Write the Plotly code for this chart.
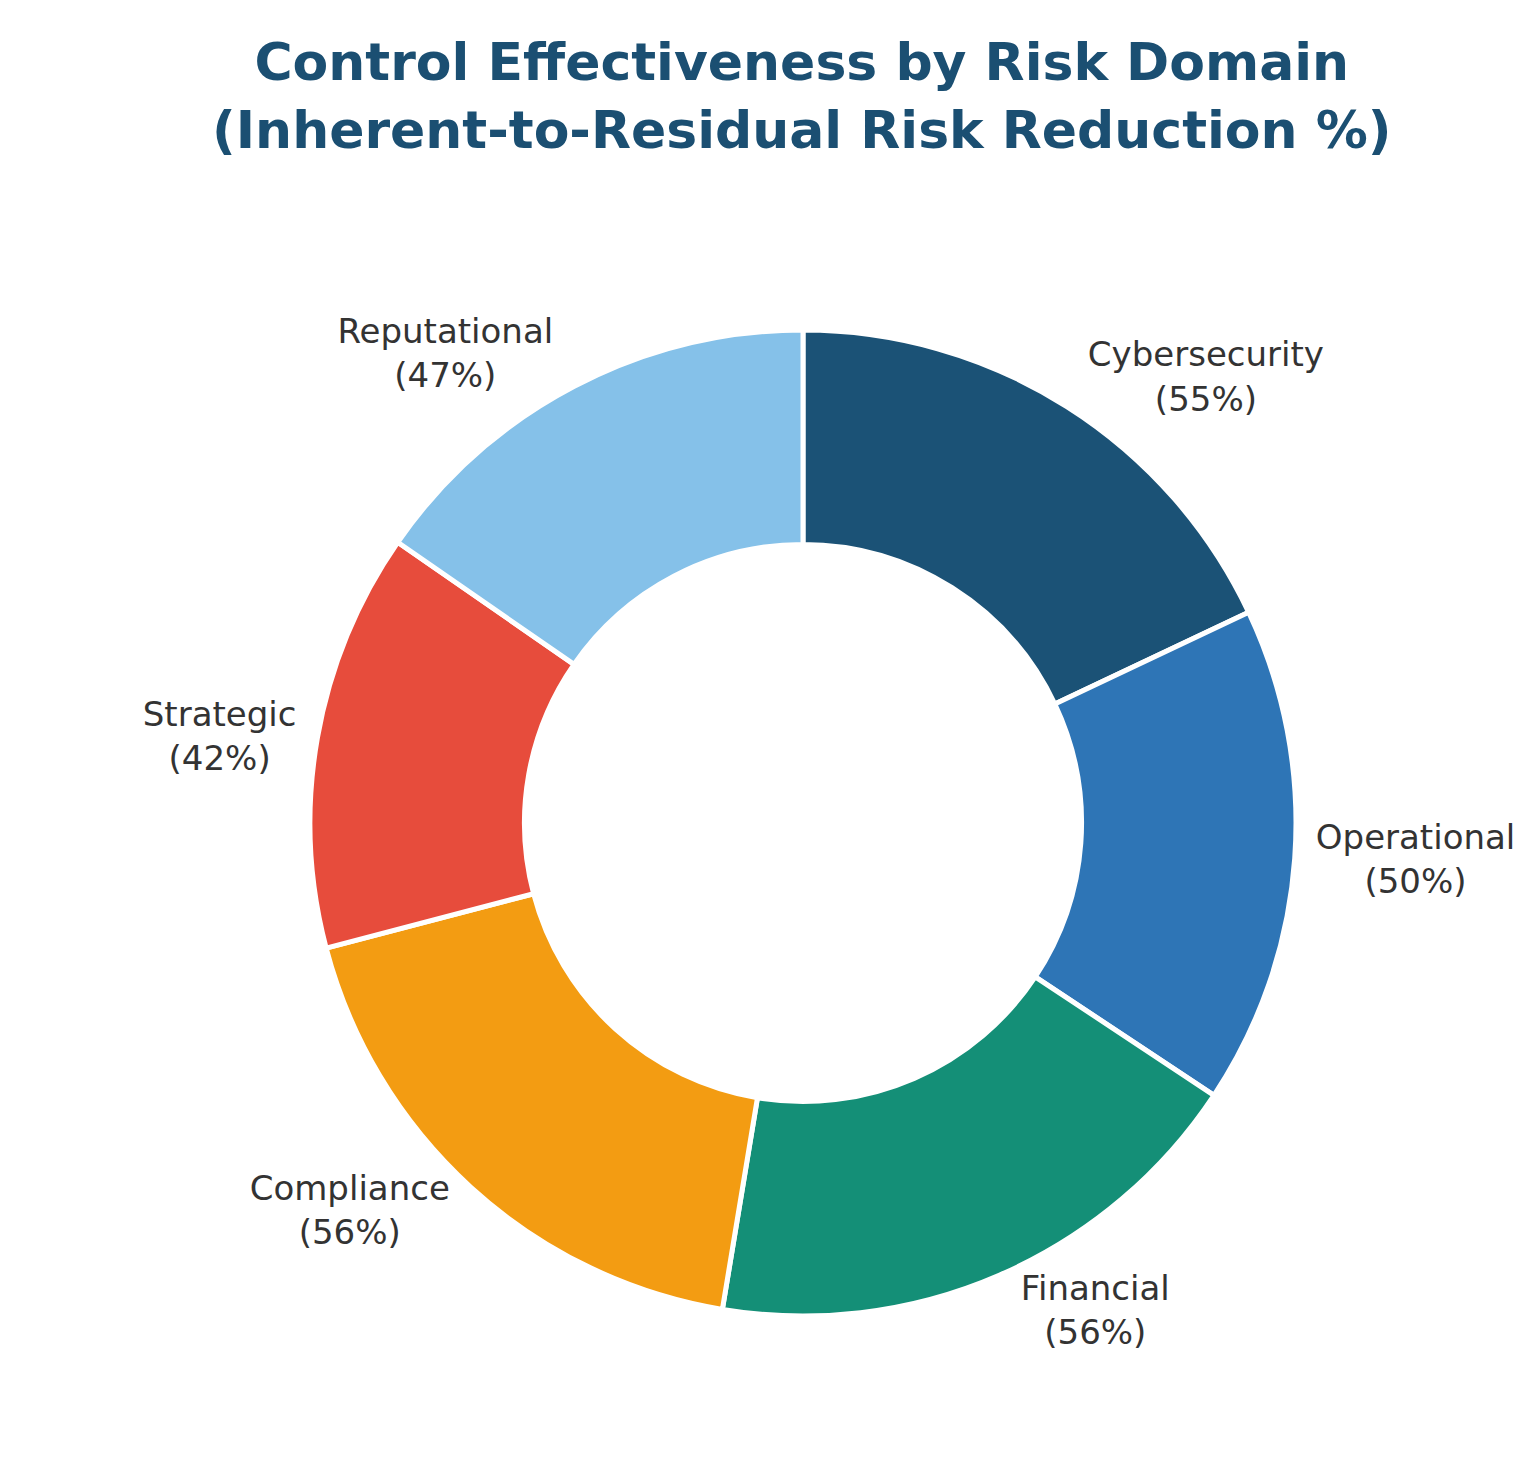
import plotly.graph_objects as go

categories = ["Cybersecurity", "Operational", "Financial", "Compliance", "Strategic", "Reputational"]
reduction = [55, 50, 56, 56, 42, 47]
colors = ["#1b5276", "#2e75b6", "#148f77", "#f39c12", "#e74c3c", "#85c1e9"]

fig = go.Figure(go.Pie(
    labels=categories, values=reduction, sort=False, direction="clockwise", rotation=0,
    hole=0.565, marker=dict(colors=colors, line=dict(color="white", width=5)),
    texttemplate="%{label}<br>(%{value}%)", textposition="outside",
    textfont=dict(family="DejaVu Sans", size=34, color="#333333"),
    domain=dict(x=[302/1533, 1288/1533], y=[1-1308/1466, 1-322/1466]),
    showlegend=False, hoverinfo="label+value",
))
fig.update_layout(
    width=1533, height=1466, margin=dict(l=0, r=0, t=0, b=0),
    paper_bgcolor="white", plot_bgcolor="white",
    annotations=[dict(text="<b>Control Effectiveness by Risk Domain<br>(Inherent-to-Residual Risk Reduction %)</b>",
                      x=0.518, y=1-22/1466, xref="paper", yref="paper", yanchor="top", showarrow=False,
                      font=dict(family="DejaVu Sans", size=52, color="#1b4f72"))],
)
fig.write_html("out.html")
